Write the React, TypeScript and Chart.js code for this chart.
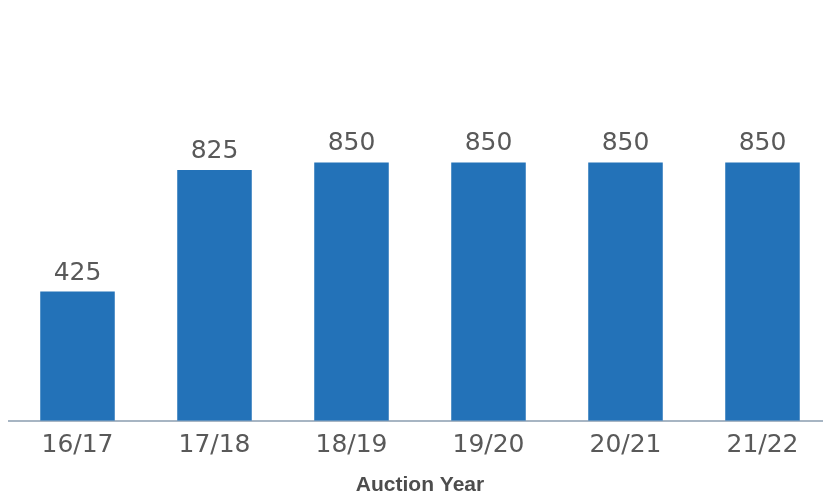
import { useRef, useEffect } from 'react'
import { Chart, registerables } from 'chart.js'
import type { Plugin } from 'chart.js'

Chart.register(...registerables)

const years = ['16/17', '17/18', '18/19', '19/20', '20/21', '21/22']
const volumes = [425, 825, 850, 850, 850, 850]

const barColor = '#2372B8'
const textColor = '#595959'
const axisColor = '#A7B5C3'
const fontFamily = '"DejaVu Sans", sans-serif'

// value labels above each bar
const valueLabels: Plugin<'bar'> = {
  id: 'valueLabels',
  afterDatasetsDraw(chart) {
    const { ctx } = chart
    const meta = chart.getDatasetMeta(0)
    ctx.save()
    ctx.fillStyle = textColor
    ctx.font = `25px ${fontFamily}`
    ctx.textAlign = 'center'
    ctx.textBaseline = 'alphabetic'
    meta.data.forEach((bar, i) => {
      ctx.fillText(String(volumes[i]), bar.x, bar.y - 12)
    })
    ctx.restore()
  },
}

export default function App() {
  const canvasRef = useRef<HTMLCanvasElement>(null)
  const chartRef = useRef<Chart | null>(null)

  useEffect(() => {
    document.body.style.margin = '0'
    if (!canvasRef.current) return
    chartRef.current?.destroy()

    chartRef.current = new Chart(canvasRef.current, {
      type: 'bar',
      data: {
        labels: years,
        datasets: [
          {
            data: volumes,
            backgroundColor: barColor,
            barPercentage: 0.544,
            categoryPercentage: 1,
          },
        ],
      },
      options: {
        responsive: false,
        animation: false,
        devicePixelRatio: 1,
        layout: { padding: { top: 56, left: 9, right: 0, bottom: 0 } },
        plugins: {
          legend: { display: false },
          tooltip: { enabled: false },
        },
        scales: {
          x: {
            grid: { display: false, drawTicks: false },
            border: { display: true, color: axisColor, width: 2 },
            ticks: {
              color: textColor,
              font: { family: fontFamily, size: 25 },
              padding: 10,
            },
            title: {
              display: true,
              text: 'Auction Year',
              color: '#4D4D4D',
              font: { family: '"Liberation Sans", Arial, sans-serif', size: 21, weight: 'bold' },
              padding: { top: 2, bottom: -3 },
            },
          },
          y: {
            display: false,
            min: 0,
            max: 1200,
          },
        },
      },
      plugins: [valueLabels],
    })

    return () => {
      chartRef.current?.destroy()
      chartRef.current = null
    }
  }, [])

  return (
    <div style={{ width: 823, height: 495, overflow: 'hidden', background: '#fff' }}>
      <canvas ref={canvasRef} width={831} height={495} style={{ width: 831, height: 495 }} />
    </div>
  )
}
